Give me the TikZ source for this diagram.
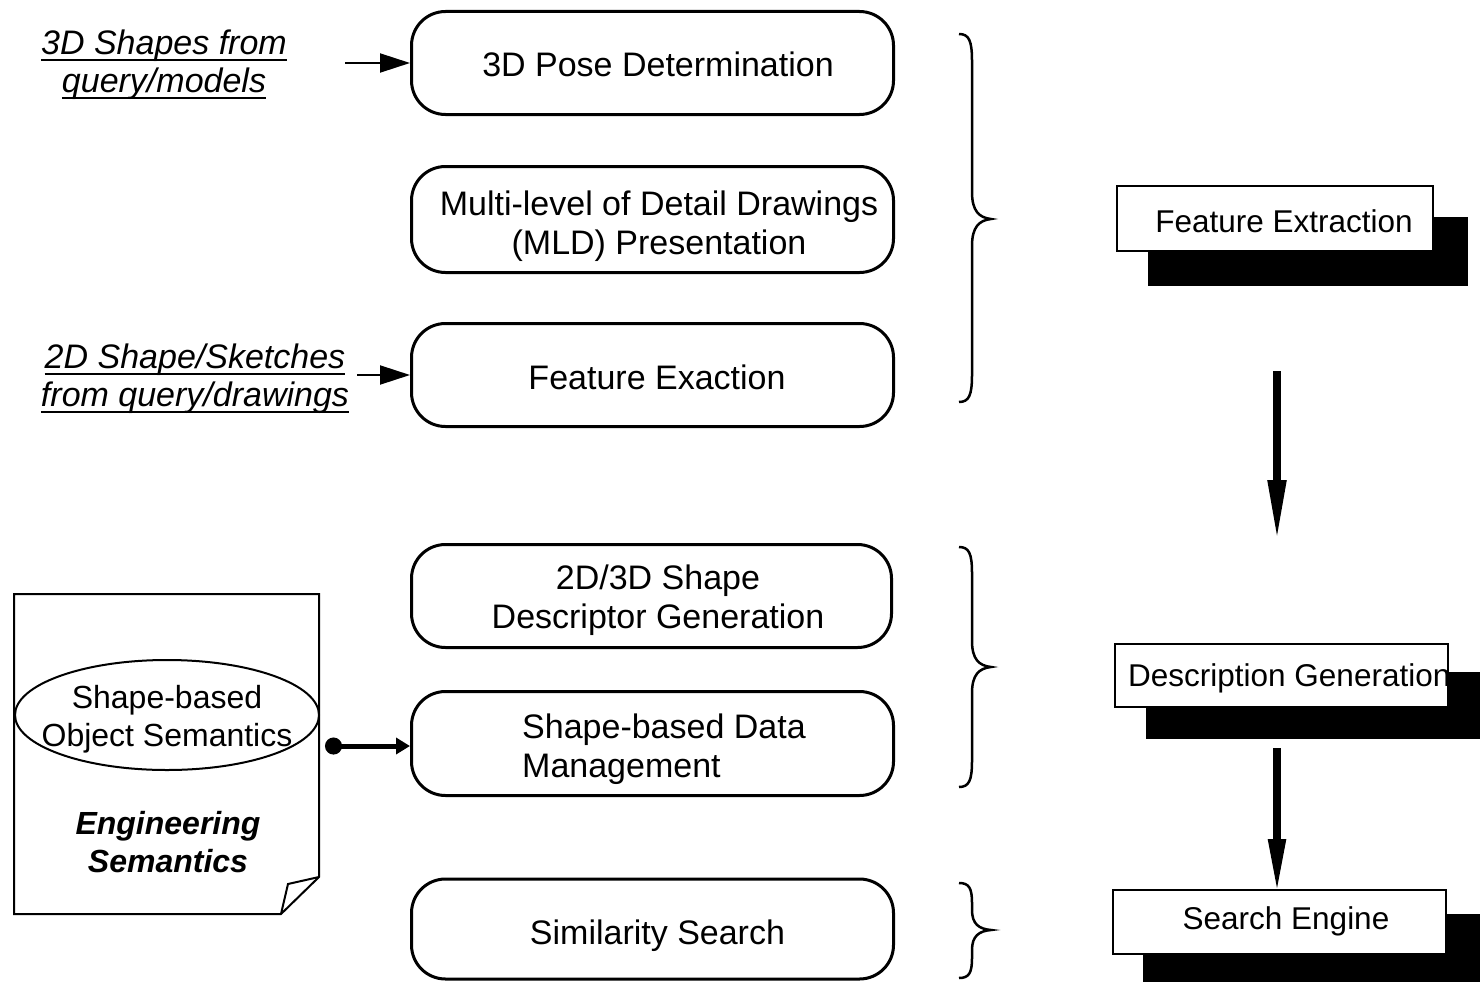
\documentclass[tikz,border=0pt]{standalone}
\usepackage{fontspec}
\setmainfont{Liberation Sans}
\usetikzlibrary{shapes.geometric,arrows.meta}

% underline at a fixed depth below the baseline
\newsavebox\ulinebox
\newcommand\undl[1]{\sbox\ulinebox{#1}\rlap{\rule[-6.5pt]{\wd\ulinebox}{1.8pt}}\usebox\ulinebox}

% right curly brace: x of the ends, top y, tip y, bottom y, size of the bends
\newcommand\curlybrace[5]{%
  \draw[bracestyle] (#1,#2) .. controls (#1+10,#2) and (#1+13,#2+0.25*#5) .. (#1+13,#2+#5)
    -- (#1+13,#3-#5) .. controls (#1+13,#3-0.3*#5) and (#1+20,#3-0.05*#5) .. (#1+32,#3)
    .. controls (#1+20,#3+0.05*#5) and (#1+13,#3+0.3*#5) .. (#1+13,#3+#5)
    -- (#1+13,#4-#5) .. controls (#1+13,#4-0.25*#5) and (#1+10,#4) .. (#1,#4);}

\begin{document}
\begin{tikzpicture}[x=1pt,y=-1pt,
  stagebox/.style={draw, line width=3pt, rounded corners=34pt, inner sep=0pt,
    minimum width=482pt},
  stagetext/.style={font=\fontsize{34}{39}\selectfont, align=center, inner sep=0pt},
  modulebox/.style={draw, fill=white, line width=2pt, inner sep=0pt},
  moduletext/.style={font=\fontsize{31.5}{38}\selectfont, inner sep=0pt},
  inputtext/.style={font=\itshape\fontsize{34}{38}\selectfont, align=center, inner sep=0pt},
  bracestyle/.style={line width=2.5pt},
  feed/.style={line width=2pt, -{Triangle[length=30pt,width=19pt]}},
  flow/.style={line width=8pt, -{Triangle[length=62pt,width=17pt]}},
]
\useasboundingbox (0,0) rectangle (1480,982);

% ---------- processing stages ----------
\node[stagebox, minimum height=103pt] (pose) at (652.5,63) {};
\node[stagetext] (posetxt) at (658,64) {3D Pose Determination};

\node[stagebox, minimum height=106pt] (mld) at (652.5,219.5) {};
\node[stagetext] (mldtxt) at (659,226) {Multi-level of Detail Drawings\\(MLD) Presentation};

\node[stagebox, minimum height=103pt] (fex) at (652.5,375) {};
\node[stagetext] (fextxt) at (657,377) {Feature Exaction};

\node[stagebox, minimum width=480pt, minimum height=103pt] (desc) at (651.5,596) {};
\node[stagetext] (desctxt) at (658,600) {2D/3D Shape\\Descriptor Generation};

\node[stagebox, minimum height=104pt] (sdm) at (652.5,743.5) {};
\node[stagetext, align=left, anchor=west] (sdmtxt) at (522,749) {Shape-based Data\\Management};

\node[stagebox, minimum height=100pt] (sim) at (652.5,929) {};
\node[stagetext] (simtxt) at (657.5,936) {Similarity Search};

% ---------- inputs ----------
\node[inputtext] (in3d) at (164,65) {\undl{3D Shapes from}\\\undl{query/models}};
\node[inputtext] (in2d) at (195,379)
  {\undl{2D Shape/Sketches}\\\undl{from query/drawings}};
\coordinate (in3dend) at (345,63);
\coordinate (in2dend) at (357,375);
\draw[feed] (in3dend) -- (in3dend -| pose.west);
\draw[feed] (in2dend) -- (in2dend -| fex.west);

% ---------- engineering semantics document ----------
\draw[line width=2pt, line join=miter]
  (14,594) -- (319,594) -- (319,877) -- (281,914) -- (14,914) -- cycle;
\draw[line width=2pt, line join=miter] (319,877) -- (288,884) -- (281,914);
\node[draw, ellipse, line width=2pt, minimum width=304pt, minimum height=110pt,
  inner sep=0pt] (osem) at (167,715) {};
\node[font=\fontsize{32}{38}\selectfont, align=center, inner sep=0pt] (osemtxt)
  at (167,719) {Shape-based\\Object Semantics};
\node[font=\bfseries\itshape\fontsize{32}{38}\selectfont, align=center, inner sep=0pt]
  (engsem) at (168,842) {Engineering\\Semantics};
\coordinate (semsrc) at (325,746);
\draw[line width=5pt, {Circle[length=17pt]}-{Triangle[length=14pt,width=16pt]}]
  (semsrc) -- (semsrc -| sdm.west);

% ---------- braces ----------
\curlybrace{959}{34}{219}{402}{27}
\curlybrace{959}{547}{667}{787}{26}
\curlybrace{959}{883}{930}{978}{20}

% ---------- system modules ----------
\node[modulebox, minimum width=316pt, minimum height=65pt] (fe) at (1275,218.5) {};
\fill[draw, line width=2pt] ([shift={(33,33)}]fe.north west) rectangle ([shift={(33,33)}]fe.south east);
\node[modulebox, minimum width=316pt, minimum height=65pt] at (fe) {};
\node[moduletext, anchor=base] (fetxt) at (1284,232) {Feature Extraction};

\node[modulebox, minimum width=333pt, minimum height=63pt] (dg) at (1281.5,675.5) {};
\fill[draw, line width=2pt] ([shift={(33,30)}]dg.north west) rectangle ([shift={(33,30)}]dg.south east);
\node[modulebox, minimum width=333pt, minimum height=63pt] at (dg) {};
\begin{scope}
  \clip (dg.north west) rectangle (dg.south east);
  \node[moduletext, anchor=base west] (dgtxt) at (1128,686) {Description Generation};
\end{scope}

\node[modulebox, minimum width=333pt, minimum height=64pt] (se) at (1279.5,922) {};
\fill[draw, line width=2pt] ([shift={(32,26)}]se.north west) rectangle ([shift={(32,26)}]se.south east);
\node[modulebox, minimum width=333pt, minimum height=64pt] at (se) {};
\node[moduletext, anchor=base] (setxt) at (1286,929) {Search Engine};

% ---------- flow between modules ----------
\coordinate (f1a) at (1277,371);
\coordinate (f1b) at (1277,542);
\coordinate (f2a) at (1277,748);
\coordinate (f2b) at (1277,895);
\draw[flow] (f1a) -- (f1b);
\draw[flow, -{Triangle[length=56pt,width=16pt]}] (f2a) -- (f2b);
\end{tikzpicture}
\end{document}
